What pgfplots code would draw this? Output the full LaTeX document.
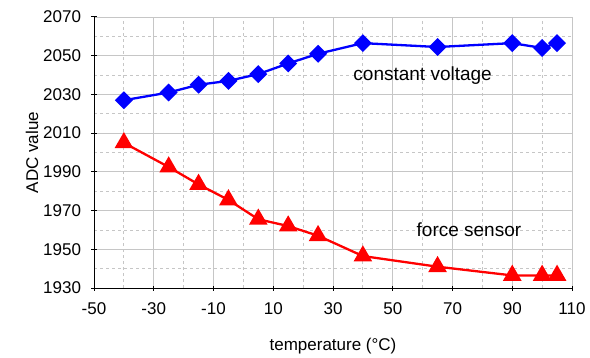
\documentclass[border=0pt]{standalone}
\usepackage{pgfplots}
\pgfplotsset{compat=1.18}
\usepackage{fontspec}
\setmainfont{Liberation Sans}
\begin{document}
\begin{tikzpicture}
\begin{axis}[
  name=ax,
  scale only axis,
  width=478pt, height=271pt,
  xmin=-50, xmax=110, ymin=1930, ymax=2070,
  xtick={-50,-30,...,110},
  ytick={1930,1950,...,2070},
  minor x tick num=1, minor y tick num=1,
  minor tick length=0pt,
  major tick length=5pt,
  tick align=outside,
  axis x line=bottom, axis y line=left,
  axis line style={black, line width=1pt, -},
  tick style={black, line width=1pt},
  grid=both,
  major grid style={gray!45, line width=0.9pt},
  minor grid style={gray!45, dashed, line width=0.8pt},
  font=\fontsize{17}{20}\selectfont,
  /pgf/number format/assume math mode=true,
  /pgf/number format/1000 sep={},
  xticklabel style={yshift=-9pt},
  yticklabel style={xshift=-7pt},
  xlabel={temperature (°C)},
  ylabel={ADC value},
  xlabel style={yshift=-16pt},
  ylabel style={yshift=-2pt},
  clip=false,
]
\addplot[blue, line width=2.3pt, mark=square*, mark size=5.2pt, mark options={rotate=45, solid}]
coordinates {(-40,2027) (-25,2031) (-15,2035) (-5,2037) (5,2040.5) (15,2046) (25,2051) (40,2056.5) (65,2054.5) (90,2056.5) (100,2054) (105,2056.5)};
\addplot[red, line width=2.3pt, mark=triangle*, mark size=8.5pt, mark options={solid}]
coordinates {(-40,2005) (-25,1992.5) (-15,1983.5) (-5,1975.5) (5,1965.5) (15,1962) (25,1957) (40,1946.5) (65,1941) (90,1936.5) (100,1936.5) (105,1936.5)};
\node[font=\fontsize{19}{22}\selectfont] at (axis cs:60,2039.5) {constant voltage};
\node[font=\fontsize{19}{22}\selectfont] at (axis cs:75.5,1960) {force sensor};
\end{axis}
\path[use as bounding box] ([shift={(-94pt,-66pt)}]ax.south west) rectangle ([shift={(18pt,17pt)}]ax.north east);
\end{tikzpicture}
\end{document}
